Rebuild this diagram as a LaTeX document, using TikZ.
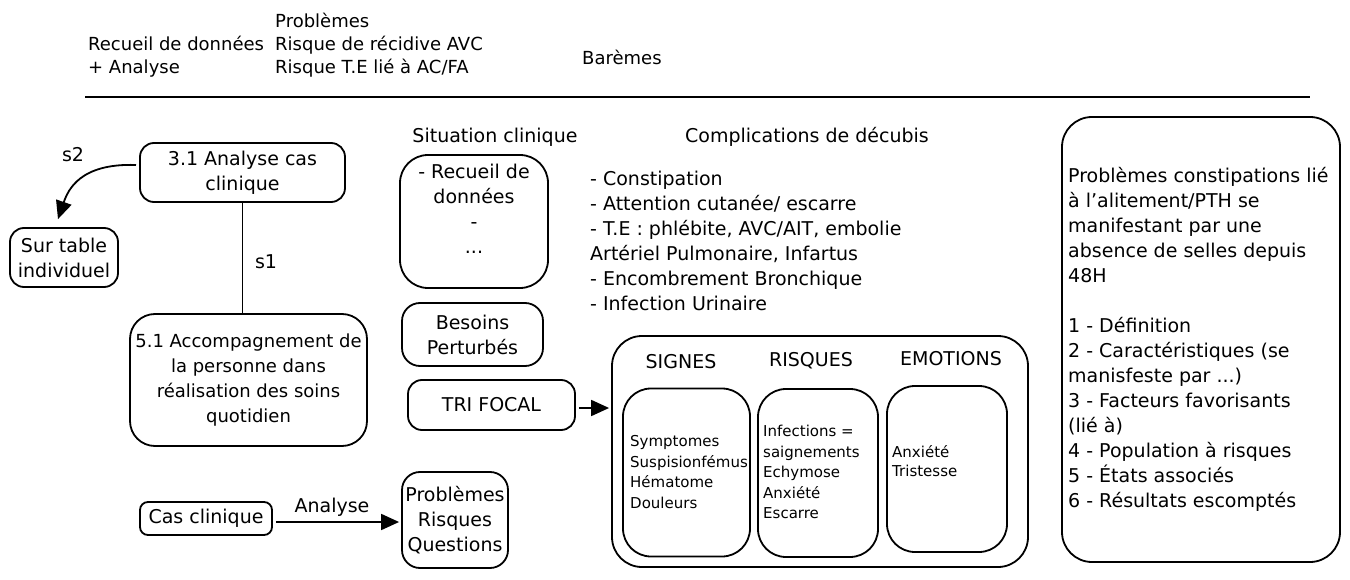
\documentclass[tikz,border=0pt]{standalone}
\usepackage{fontspec}
\setmainfont{DejaVu Sans}
\usetikzlibrary{arrows.meta}
\newcommand{\fsA}{\fontsize{19}{25}\selectfont}
\newcommand{\fsB}{\fontsize{18}{23}\selectfont}
\newcommand{\fsC}{\fontsize{15}{20.5}\selectfont}
\begin{document}
\begin{tikzpicture}[x=1pt,y=-1pt,
  box/.style={draw,line width=1.8pt,rounded corners=#1,inner sep=0pt,align=center,font=\fsA},
  box/.default=14pt,
  txt/.style={inner sep=0pt,font=\fsA},
  ltxt/.style={inner sep=0pt,align=left,anchor=west},
  conn/.style={line width=1.8pt},
  arr/.style={line width=1.8pt,-{Triangle[length=18pt,width=16pt]}}]
\useasboundingbox (0,0) rectangle (1350,580);
% header
\node[txt,font=\fsB,ltxt] (hrec) at (88,57) {Recueil de données\\+ Analyse};
\node[txt,font=\fsB,ltxt] (hpb) at (275,45) {Problèmes\\Risque de récidive AVC\\Risque T.E lié à AC/FA};
\node[txt,font=\fsB,anchor=west] (hbar) at (582,57) {Barèmes};
\coordinate (hl1) at (85,97);
\coordinate (hl2) at (1310,97);
\draw[line width=2pt] (hl1) -- (hl2);
% left part
\node[box,minimum width=205pt,minimum height=59pt] (a31) at (242.5,172.5) {3.1 Analyse cas\\clinique};
\node[box,minimum width=108pt,minimum height=59pt] (sur) at (64,257.5) {Sur table\\individuel};
\node[box=25pt,minimum width=237pt,minimum height=132pt,font=\fontsize{18}{25}\selectfont] (a51) at (248.5,380) {5.1 Accompagnement de\\la personne dans\\réalisation des soins\\quotidien};
\coordinate (s2start) at (136,165);
\draw[arr] (s2start) .. controls (80,163) and (68,190) .. ([xshift=-6pt,yshift=8pt]sur.north);
\node[txt] (s2) at (73,155) {s2};
\draw[conn] (a31.south) -- (a31.south |- a51.north);
\node[txt] (s1) at (266,262) {s1};
% situation clinique
\node[txt] (sitlab) at (495,137) {Situation clinique};
\node[box=28pt,minimum width=148pt,minimum height=133pt] (sit) at (474,221.5) {};
\node[txt,align=center] (sittxt) at (474,209) {- Recueil de\\données\\-\\...};
\node[box=18pt,minimum width=141pt,minimum height=63pt] (bes) at (472.5,334.5) {Besoins\\Perturbés};
\node[box,minimum width=167pt,minimum height=50pt] (tri) at (491.5,405) {TRI FOCAL};
% complications
\node[txt] (complab) at (807,137) {Complications de décubis};
\node[txt,ltxt] (complist) at (590,241) {- Constipation\\- Attention cutanée/ escarre\\- T.E : phlébite, AVC/AIT, embolie\\Artériel Pulmonaire, Infartus\\- Encombrement Bronchique\\- Infection Urinaire};
% big box
\node[box=30pt,minimum width=416pt,minimum height=231pt] (big) at (820,451.5) {};
\draw[arr] ([xshift=3pt]tri.east |- 0,408) -- ([xshift=-2pt]big.west |- 0,408);
\node[txt] (hsig) at (681,362) {SIGNES};
\node[txt] (hris) at (811,361) {RISQUES};
\node[txt] (hemo) at (951,359) {EMOTIONS};
\node[box=28pt,minimum width=127pt,minimum height=168pt] (bsig) at (686.5,472.5) {};
\node[box=28pt,minimum width=120pt,minimum height=168pt] (bris) at (818,473) {};
\node[box=28pt,minimum width=120pt,minimum height=166pt] (bemo) at (947,469) {};
\node[txt,font=\fsC,ltxt] (tsig) at (630,472) {Symptomes\\Suspisionfémus\\Hématome\\Douleurs};
\node[txt,font=\fsC,ltxt] (tris) at (763,472) {Infections =\\saignements\\Echymose\\Anxiété\\Escarre};
\node[txt,font=\fontsize{15}{18.5}\selectfont,ltxt] (temo) at (892,461) {Anxiété\\Tristesse};
% right box
\node[box=30pt,minimum width=278pt,minimum height=445pt] (rb) at (1201,339.5) {};
\node[txt,ltxt] (rtxt) at (1068,339) {Problèmes constipations lié\\à l'alitement/PTH se\\manifestant par une\\absence de selles depuis\\48H\\[25pt]1 - Définition\\2 - Caractéristiques (se\\manisfeste par ...)\\3 - Facteurs favorisants\\(lié à)\\4 - Population à risques\\5 - États associés\\6 - Résultats escomptés};
% bottom
\node[box=8pt,minimum width=132pt,minimum height=33pt] (cas) at (206,518.5) {Cas clinique};
\node[box=18pt,minimum width=106pt,minimum height=96pt] (prq) at (455,520) {Problèmes\\Risques\\Questions};
\draw[arr] ([xshift=3pt]cas.east |- 0,522) -- ([xshift=-2pt]prq.west |- 0,522);
\node[txt] (anal) at (332,507) {Analyse};
\end{tikzpicture}
\end{document}
